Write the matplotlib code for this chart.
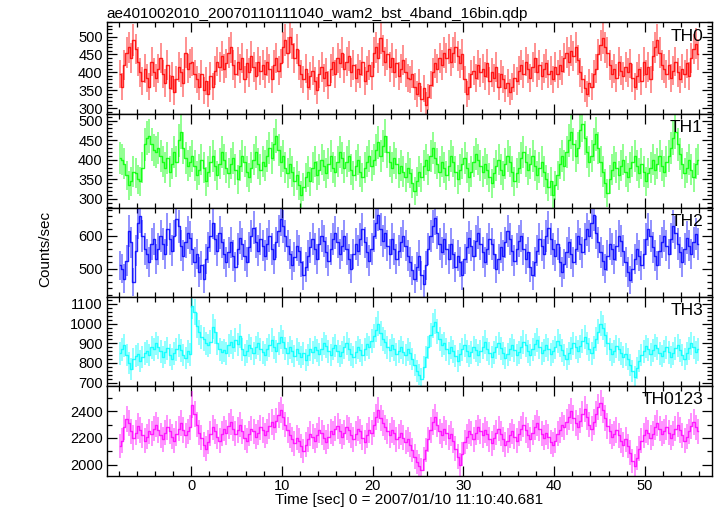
#!/usr/bin/env python3
"""Plot the WAM burst light curves (TH0..TH3 and the sum TH0123), one panel each."""

import numpy as np
import matplotlib
matplotlib.use("Agg")
import matplotlib.pyplot as plt
import matplotlib.ticker as ticker

# time bins: 0.25 s wide, starting at -8 s (256 bins)
BIN = 0.25
T_START = -8.0

th0 = [
    395, 360, 420, 455, 470, 440, 490, 465, 430, 400, 375, 410, 385, 360, 430, 400,
    385, 410, 440, 395, 370, 420, 355, 390, 345, 380, 415, 400, 370, 455, 410, 425,
    430, 395, 380, 360, 395, 350, 375, 340, 390, 360, 405, 430, 415, 445, 410, 425,
    455, 470, 420, 395, 430, 410, 440, 380, 425, 400, 445, 415, 390, 430, 405, 420,
    395, 430, 410, 380, 420, 440, 405, 425, 470, 490, 455, 500, 480, 440, 465, 420,
    395, 380, 410, 360, 390, 405, 375, 350, 395, 415, 385, 400, 365, 410, 430, 395,
    440, 425, 455, 410, 430, 445, 400, 420, 385, 410, 395, 430, 375, 405, 420, 390,
    455, 470, 440, 495, 460, 430, 450, 415, 440, 400, 425, 390, 410, 435, 400, 385,
    380, 395, 360, 340, 370, 325, 355, 310, 330, 365, 400, 425, 410, 440, 420, 455,
    440, 465, 430, 455, 470, 445, 425, 450, 380, 340, 360, 395, 405, 385, 420, 400,
    410, 390, 425, 375, 400, 385, 415, 360, 395, 380, 355, 370, 345, 360, 385, 375,
    405, 420, 395, 430, 410, 385, 415, 440, 400, 420, 390, 410, 425, 395, 405, 380,
    415, 395, 420, 405, 440, 455, 430, 460, 445, 470, 435, 400, 380, 355, 340, 370,
    360, 395, 410, 450, 475, 495, 470, 455, 420, 395, 410, 385, 430, 405, 390, 415,
    400, 425, 385, 360, 390, 410, 375, 430, 395, 415, 380, 445, 470, 490, 455, 420,
    410, 395, 420, 385, 405, 430, 400, 380, 410, 395, 425, 390, 440, 465, 480, 450,
]

th1 = [
    405, 400, 390, 360, 335, 345, 370, 365, 350, 345, 380, 440, 455, 460, 440, 425,
    420, 430, 410, 395, 380, 405, 370, 390, 420, 395, 450, 470, 430, 405, 385, 395,
    410, 385, 360, 375, 400, 380, 345, 370, 395, 410, 385, 360, 390, 420, 400, 380,
    365, 390, 405, 375, 350, 385, 410, 395, 370, 355, 380, 400, 420, 390, 375, 395,
    385, 410, 430, 405, 440, 460, 425, 395, 410, 380, 365, 390, 370, 345, 360, 335,
    310, 330, 355, 370, 345, 380, 395, 360, 375, 400, 385, 365, 390, 410, 380, 370,
    395, 420, 405, 380, 395, 410, 375, 360, 385, 400, 370, 355, 380, 395, 410, 385,
    400, 425, 445, 410, 435, 460, 420, 395, 380, 405, 390, 365, 385, 370, 355, 380,
    365, 340, 320, 345, 370, 355, 385, 400, 375, 410, 430, 405, 390, 370, 395, 380,
    360, 385, 410, 395, 370, 350, 375, 390, 405, 380, 355, 370, 395, 415, 400, 385,
    370, 390, 375, 355, 340, 365, 385, 400, 375, 360, 390, 410, 395, 370, 345, 365,
    380, 405, 420, 395, 375, 390, 410, 385, 360, 380, 395, 370, 350, 330, 345, 310,
    335, 360, 390, 410, 385, 420, 450, 470, 440, 410, 430, 475, 490, 455, 420, 395,
    410, 440, 465, 430, 395, 370, 340, 315, 350, 375, 395, 380, 360, 385, 400, 370,
    355, 380, 395, 410, 385, 365, 390, 370, 345, 365, 380, 400, 375, 390, 410, 385,
    370, 395, 410, 430, 455, 470, 440, 415, 390, 365, 380, 400, 375, 355, 390, 400,
]

th2 = [
    510, 500, 470, 525, 615, 580, 460, 555, 640, 660, 600, 560, 545, 520, 575, 590,
    530, 560, 600, 575, 545, 620, 590, 555, 600, 650, 630, 570, 540, 580, 610, 595,
    560, 520, 545, 490, 510, 470, 530, 565, 600, 640, 590, 555, 610, 580, 545, 520,
    550, 580, 540, 505, 560, 595, 575, 540, 520, 565, 600, 625, 580, 555, 590, 570,
    540, 575, 600, 560, 530, 580, 615, 650, 630, 600, 570, 545, 510, 535, 570, 555,
    520, 480, 505, 540, 565, 590, 560, 530, 575, 600, 585, 550, 525, 560, 590, 610,
    580, 545, 570, 600, 560, 530, 500, 545, 575, 555, 590, 620, 580, 550, 525, 560,
    600, 640, 665, 620, 585, 610, 570, 545, 590, 560, 530, 555, 580, 600, 570, 540,
    520, 495, 470, 505, 540, 480, 455, 510, 560, 600, 630, 655, 610, 575, 550, 590,
    560, 530, 575, 545, 505, 540, 520, 480, 530, 565, 595, 570, 540, 585, 610, 575,
    550, 520, 560, 590, 575, 545, 500, 530, 565, 540, 580, 615, 590, 555, 525, 560,
    585, 600, 560, 530, 550, 505, 480, 520, 555, 590, 570, 545, 600, 625, 590, 560,
    540, 575, 520, 490, 515, 550, 580, 545, 520, 560, 600, 575, 550, 590, 620, 600,
    640, 665, 610, 580, 550, 525, 500, 540, 575, 560, 530, 570, 600, 585, 555, 520,
    490, 465, 500, 530, 560, 540, 510, 545, 590, 620, 600, 565, 540, 510, 555, 580,
    600, 570, 545, 590, 630, 610, 575, 550, 520, 560, 595, 570, 545, 580, 605, 575,
]

th3 = [
    850, 870, 890, 840, 800, 770, 820, 835, 845, 810, 830, 850, 860, 840, 880, 870,
    900, 880, 860, 830, 855, 875, 840, 820, 850, 870, 890, 865, 840, 825, 860, 845,
    1090, 1060, 990, 955, 930, 920, 900, 890, 905, 985, 960, 900, 870, 855, 865, 850,
    890, 905, 880, 915, 895, 935, 870, 840, 860, 890, 875, 850, 880, 900, 870, 855,
    840, 870, 890, 915, 880, 860, 900, 930, 905, 875, 850, 880, 860, 835, 870, 850,
    830, 850, 815, 840, 870, 855, 880, 865, 845, 870, 900, 885, 860, 840, 875, 890,
    860, 835, 855, 880, 900, 870, 845, 830, 855, 880, 865, 840, 870, 895, 880, 910,
    935, 970, 1000, 950, 920, 905, 880, 865, 890, 870, 845, 860, 880, 855, 840, 870,
    850, 820, 790, 760, 740, 720, 780, 830, 880, 940, 990, 1010, 960, 920, 890, 900,
    870, 850, 880, 860, 835, 810, 845, 870, 890, 860, 835, 855, 880, 865, 840, 860,
    880, 905, 870, 850, 830, 855, 880, 900, 875, 850, 825, 845, 870, 890, 865, 840,
    855, 880, 905, 890, 860, 840, 870, 895, 915, 880, 850, 865, 890, 870, 845, 860,
    880, 910, 890, 865, 840, 820, 850, 875, 900, 880, 860, 885, 910, 930, 900, 870,
    850, 880, 920, 960, 1000, 980, 940, 900, 870, 845, 860, 885, 870, 850, 830, 845,
    820, 790, 760, 730, 775, 810, 840, 860, 885, 870, 845, 865, 890, 875, 850, 835,
    860, 880, 855, 830, 850, 875, 890, 865, 840, 820, 850, 875, 900, 880, 855, 870,
]

th0123 = [
    2140, 2180, 2280, 2340, 2310, 2250, 2200, 2240, 2290, 2260, 2220, 2180, 2210, 2250, 2230, 2270,
    2300, 2260, 2220, 2190, 2240, 2280, 2250, 2210, 2180, 2230, 2270, 2310, 2260, 2220, 2250, 2280,
    2450, 2380, 2300, 2240, 2200, 2150, 2120, 2170, 2230, 2280, 2250, 2210, 2180, 2230, 2270, 2240,
    2290, 2320, 2270, 2230, 2260, 2300, 2250, 2200, 2180, 2230, 2270, 2250, 2210, 2240, 2280, 2260,
    2220, 2250, 2290, 2320, 2280, 2330, 2370, 2410, 2360, 2300, 2260, 2220, 2190, 2160, 2200, 2180,
    2140, 2100, 2150, 2190, 2230, 2210, 2180, 2220, 2260, 2240, 2200, 2170, 2210, 2250, 2230, 2270,
    2290, 2250, 2210, 2240, 2280, 2260, 2220, 2190, 2230, 2270, 2250, 2200, 2170, 2220, 2260, 2240,
    2300, 2360, 2410, 2350, 2310, 2280, 2250, 2220, 2260, 2240, 2190, 2210, 2240, 2200, 2170, 2190,
    2150, 2110, 2060, 2020, 1990, 1960, 2040, 2110, 2190, 2260, 2320, 2360, 2300, 2250, 2220, 2270,
    2240, 2200, 2230, 2180, 2120, 2060, 2000, 2080, 2170, 2210, 2250, 2230, 2190, 2240, 2280, 2250,
    2220, 2260, 2230, 2190, 2160, 2200, 2240, 2270, 2230, 2190, 2150, 2180, 2220, 2250, 2210, 2180,
    2230, 2270, 2300, 2260, 2220, 2190, 2240, 2280, 2310, 2270, 2230, 2200, 2240, 2210, 2170, 2150,
    2180, 2230, 2260, 2300, 2280, 2320, 2360, 2400, 2350, 2310, 2280, 2330, 2380, 2420, 2360, 2300,
    2270, 2320, 2380, 2430, 2460, 2410, 2350, 2290, 2250, 2210, 2230, 2260, 2220, 2180, 2150, 2190,
    2140, 2090, 2030, 1990, 2050, 2120, 2180, 2220, 2260, 2240, 2200, 2230, 2280, 2310, 2270, 2230,
    2250, 2280, 2240, 2200, 2230, 2270, 2300, 2260, 2220, 2180, 2210, 2250, 2290, 2320, 2280, 2250,
]

names = ["TH0", "TH1", "TH2", "TH3", "TH0123"]
series = [th0, th1, th2, th3, th0123]
colors = ["#ff0000", "#00ff00", "#0000ff", "#00ffff", "#ff00ff"]
ylims = [(285, 540), (277, 518), (415, 685), (683, 1137), (1914, 2590)]
ymajor = [50, 50, 100, 100, 200]
yminor = [10, 10, 20, 20, 100]

plt.rcParams["font.family"] = ["Liberation Sans", "DejaVu Sans"]

fig = plt.figure(figsize=(7.17, 5.16), dpi=100)

# panel edges in figure fraction (top to bottom)
edges = [0.957, 0.780, 0.597, 0.425, 0.252, 0.0775]
left, width = 0.149, 0.844

axes = []
for i, (name, vals, c) in enumerate(zip(names, series, colors)):
    bottom = edges[i + 1]
    height = edges[i] - edges[i + 1]
    ax = fig.add_axes([left, bottom, width, height])
    axes.append(ax)

    y = np.array(vals, dtype=float)
    t = T_START + BIN * (np.arange(len(y)) + 0.5)
    err = np.sqrt(y * BIN) / BIN  # Poisson error on the rate

    ax.errorbar(t, y, yerr=err, fmt="none",
                ecolor=c, elinewidth=1.1, alpha=0.55, capsize=0)
    ax.step(t, y, where="mid", color=c, linewidth=1.0, alpha=0.85)

    ax.set_xlim(-9.3, 57.4)
    ax.set_ylim(*ylims[i])
    ax.xaxis.set_major_locator(ticker.MultipleLocator(10))
    ax.xaxis.set_minor_locator(ticker.MultipleLocator(2))
    ax.yaxis.set_major_locator(ticker.MultipleLocator(ymajor[i]))
    ax.yaxis.set_minor_locator(ticker.MultipleLocator(yminor[i]))
    ax.tick_params(which="both", direction="in", top=True, right=True,
                   labelsize=10.5, width=0.9, pad=3)
    ax.tick_params(which="major", length=7)
    ax.tick_params(which="minor", length=3.5)
    if i < len(names) - 1:
        ax.tick_params(labelbottom=False)
    for sp in ax.spines.values():
        sp.set_linewidth(1.0)

    ax.text(0.985, 0.93, name, transform=ax.transAxes, ha="right", va="top",
            fontsize=12.5)

axes[-1].tick_params(axis="x", pad=2)
axes[-1].set_xlabel("Time [sec] 0 = 2007/01/10 11:10:40.681", fontsize=11, labelpad=0)
fig.text(0.063, 0.517, "Counts/sec", rotation=90, ha="center", va="center",
         fontsize=11)
fig.text(0.149, 0.972, "ae401002010_20070110111040_wam2_bst_4band_16bin.qdp",
         ha="left", va="center", fontsize=11)

fig.savefig("out.png", dpi=100)
